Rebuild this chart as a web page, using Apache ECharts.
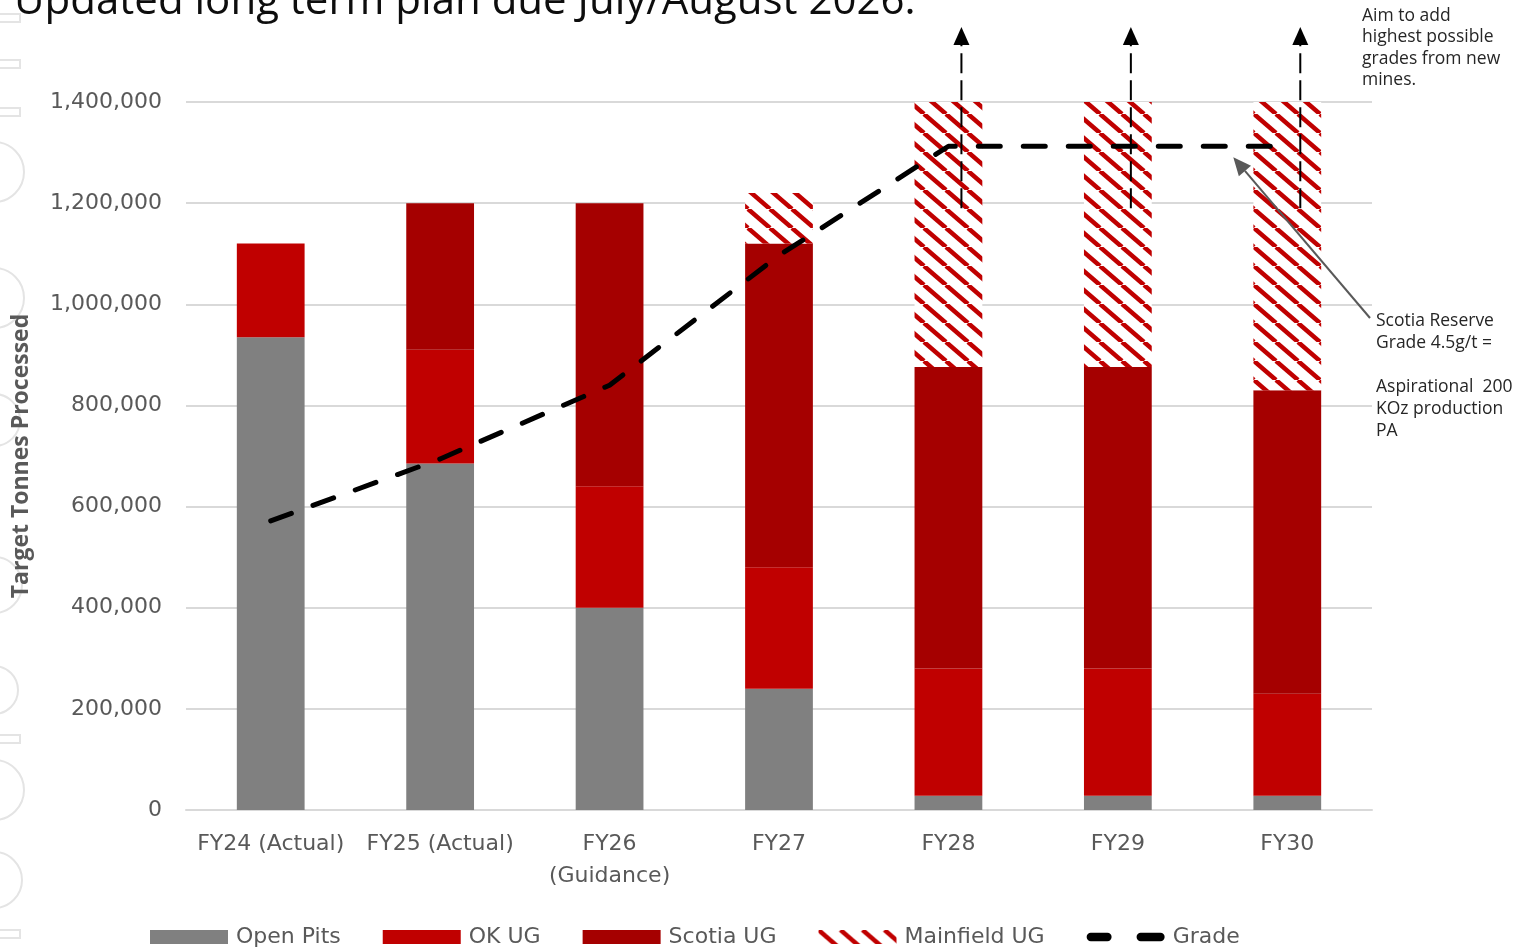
<!DOCTYPE html>
<html>
<head>
<meta charset="utf-8">
<script src="https://cdn.jsdelivr.net/npm/echarts@6/dist/echarts.min.js"></script>
<style>
html,body{margin:0;padding:0;background:#fff;}
#c{width:1521px;height:947px;}
</style>
</head>
<body>
<div id="c"></div>
<script>
// ---- data ----
const categories = ['FY24 (Actual)', 'FY25 (Actual)', 'FY26\n(Guidance)', 'FY27', 'FY28', 'FY29', 'FY30'];
const openPits  = [935000, 685000, 400000, 240000, 28000, 28000, 28000];
const okUG      = [185000, 225000, 240000, 240000, 252000, 252000, 202000];
const scotiaUG  = [0, 290000, 560000, 640000, 596000, 596000, 600000];
const mainfield = [0, 0, 0, 100000, 524000, 524000, 570000];
const grade     = [1.96, 2.38, 2.88, 3.76, 4.5, 4.5, 4.5];
const yTicks    = { min: 0, max: 1400000, interval: 200000 };
const arrowCats = ['FY28', 'FY29', 'FY30'];
const arrowBase = 1190000;
const titleText = 'Updated long term plan due July/August 2026.';
const noteTop = 'Aim to add\nhighest possible\ngrades from new\nmines.';
const noteRight = 'Scotia Reserve\nGrade 4.5g/t =\n\nAspirational  200\nKOz production\nPA';

// ---- hatch pattern ----
function makeHatch() {
  const W = 22, H = 19;
  const cv = document.createElement('canvas');
  cv.width = W; cv.height = H;
  const ctx = cv.getContext('2d');
  ctx.fillStyle = '#ffffff';
  ctx.fillRect(0, 0, W, H);
  ctx.strokeStyle = '#C00000';
  ctx.lineWidth = 4.5;
  for (let k = -1; k <= 1; k++) {
    ctx.beginPath();
    ctx.moveTo(k * W, 0);
    ctx.lineTo(k * W + W, H);
    ctx.stroke();
  }
  return { image: cv, repeat: 'repeat' };
}
const hatch = makeHatch();

const chart = echarts.init(document.getElementById('c'), null, { renderer: 'canvas' });
const axisFont = 'DejaVu Sans';
const grey = '#595959';
const gradeIcon = 'path://M4,0 H20 A4,4 0 0 1 20,8 H4 A4,4 0 0 1 4,0 Z M52,0 H71 A4,4 0 0 1 71,8 H52 A4,4 0 0 1 52,0 Z';

chart.setOption({
  animation: false,
  backgroundColor: '#ffffff',
  grid: { left: 186, right: 149, top: 102, bottom: 137, containLabel: false },
  legend: {
    left: 145, top: 921,
    itemWidth: 78, itemHeight: 14, itemGap: 42,
    textStyle: { fontFamily: axisFont, fontSize: 22, color: grey, padding: [0, 0, 0, 3] },
    data: [
      { name: 'Open Pits', icon: 'rect' },
      { name: 'OK UG', icon: 'rect' },
      { name: 'Scotia UG', icon: 'rect' },
      { name: 'Mainfield UG', icon: 'rect' },
      { name: 'Grade', icon: gradeIcon, itemStyle: { color: '#000' } }
    ]
  },
  xAxis: {
    type: 'category',
    data: categories,
    axisLine: { show: true, lineStyle: { color: '#d9d9d9', width: 2 } },
    axisTick: { show: false },
    axisLabel: { fontFamily: axisFont, fontSize: 22, color: grey, margin: 18, lineHeight: 32, interval: 0 }
  },
  yAxis: [{
    type: 'value',
    min: yTicks.min, max: yTicks.max, interval: yTicks.interval,
    name: 'Target Tonnes Processed',
    nameLocation: 'middle',
    nameGap: 153,
    nameTextStyle: { fontFamily: 'Open Sans', fontWeight: 'bold', fontSize: 23, color: grey },
    axisLine: { show: false },
    axisTick: { show: false },
    splitLine: { lineStyle: { color: '#d9d9d9', width: 2 } },
    axisLabel: {
      fontFamily: axisFont, fontSize: 22, color: grey, margin: 24,
      formatter: v => v.toLocaleString('en-US')
    }
  }, {
    type: 'value', min: 0, max: 4.8, show: false, splitLine: { show: false }
  }],
  series: [
    { name: 'Open Pits', type: 'bar', stack: 't', barWidth: '40%', data: openPits, itemStyle: { color: '#808080' } },
    { name: 'OK UG', type: 'bar', stack: 't', data: okUG, itemStyle: { color: '#C00000' } },
    { name: 'Scotia UG', type: 'bar', stack: 't', data: scotiaUG, itemStyle: { color: '#A50000' } },
    { name: 'Mainfield UG', type: 'bar', stack: 't', data: mainfield, itemStyle: { color: hatch } },
    {
      name: 'Grade', type: 'line', yAxisIndex: 1, data: grade, symbol: 'none', z: 5,
      lineStyle: { color: '#000000', width: 5, type: [22, 23], cap: 'round' },
      itemStyle: { color: '#000000' }
    }
  ]
});

// ---- annotations positioned via the axes ----
const g = [];
// faint watermark on left edge
const wm = '#e4e4e4';
[[172, 30], [298, 30], [420, 26], [585, 28], [690, 24], [790, 30], [880, 28]].forEach(([cy, r]) => {
  g.push({ type: 'circle', shape: { cx: -6, cy: cy, r: r }, style: { fill: null, stroke: wm, lineWidth: 2 }, silent: true, z: 0 });
});
[[14, 8], [60, 8], [108, 8], [735, 8], [930, 8]].forEach(([y, h]) => {
  g.push({ type: 'rect', shape: { x: -2, y: y, width: 22, height: h }, style: { fill: null, stroke: wm, lineWidth: 2 }, silent: true, z: 0 });
});

g.push({
  type: 'text', left: 14, top: -19, z: 10,
  style: { text: titleText, font: '42px "Open Sans"', fill: '#0d0d0d' }
});
g.push({
  type: 'text', left: 1362, top: 5, z: 10,
  style: { text: noteTop, font: '17.5px "Open Sans"', fill: '#262626', lineHeight: 21.5 }
});
g.push({
  type: 'text', left: 1376, top: 310, z: 10,
  style: { text: noteRight, font: '17.5px "Open Sans"', fill: '#262626', lineHeight: 22 }
});

arrowCats.forEach(cat => {
  const x = chart.convertToPixel({ xAxisIndex: 0 }, cat) + 13;
  const yb = chart.convertToPixel({ yAxisIndex: 0 }, arrowBase);
  g.push({ type: 'line', z: 20, shape: { x1: x, y1: yb, x2: x, y2: 44 },
    style: { stroke: '#000', lineWidth: 2, lineDash: [20, 7] } });
  g.push({ type: 'polygon', z: 20, shape: { points: [[x, 27], [x - 8, 45], [x + 8, 45]] }, style: { fill: '#000' } });
});

// pointer arrow from right note to grade line
{
  const gx = chart.convertToPixel({ xAxisIndex: 0 }, 'FY30') - 54;
  const gy = chart.convertToPixel({ yAxisIndex: 1 }, 4.5) + 11;
  const sx = 1370, sy = 318;
  const ang = Math.atan2(gy - sy, gx - sx);
  const L = 18, w = 8;
  const bx = gx - L * Math.cos(ang), by = gy - L * Math.sin(ang);
  g.push({ type: 'line', z: 20, shape: { x1: sx, y1: sy, x2: bx, y2: by }, style: { stroke: '#595959', lineWidth: 2 } });
  g.push({ type: 'polygon', z: 20, shape: { points: [[gx, gy],
    [bx + w * Math.sin(ang), by - w * Math.cos(ang)],
    [bx - w * Math.sin(ang), by + w * Math.cos(ang)]] }, style: { fill: '#595959' } });
}

chart.setOption({ graphic: { elements: g } });
</script>
</body>
</html>
